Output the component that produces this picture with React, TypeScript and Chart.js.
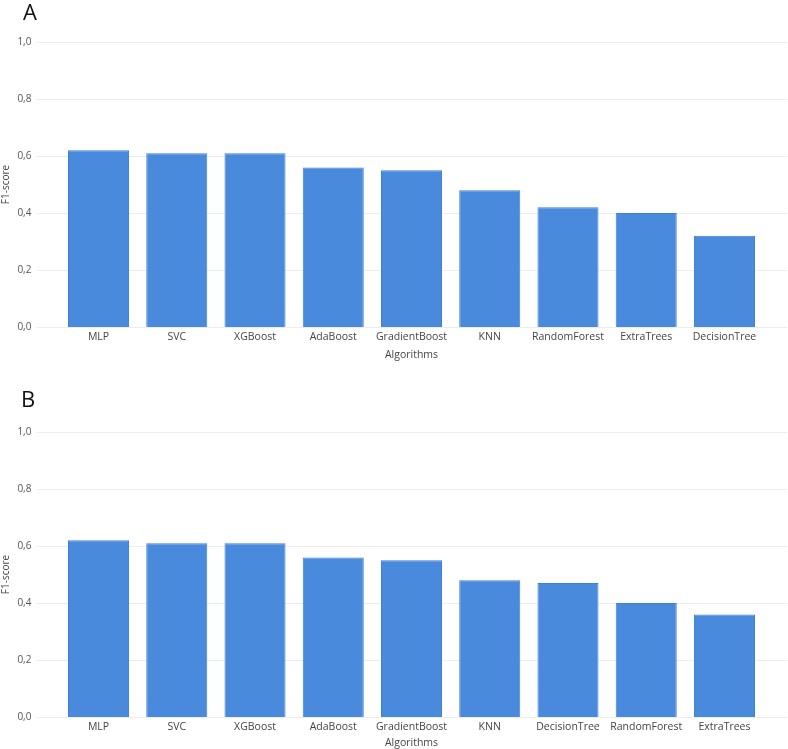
import React, { useEffect, useRef } from "react";
import { Chart, registerables } from "chart.js";

Chart.register(...registerables);

const categoriesA = ["MLP", "SVC", "XGBoost", "AdaBoost", "GradientBoost", "KNN", "RandomForest", "ExtraTrees", "DecisionTree"];
const valuesA = [0.62, 0.61, 0.61, 0.56, 0.55, 0.48, 0.42, 0.4, 0.32];
const categoriesB = ["MLP", "SVC", "XGBoost", "AdaBoost", "GradientBoost", "KNN", "DecisionTree", "RandomForest", "ExtraTrees"];
const valuesB = [0.62, 0.61, 0.61, 0.56, 0.55, 0.48, 0.47, 0.4, 0.36];
const yTicks = [0, 0.2, 0.4, 0.6, 0.8, 1.0];
const xTitle = "Algorithms";
const yTitle = "F1-score";

const FONT = "'Open Sans', 'Noto Sans', sans-serif";
const BAR = "#4a8add";

const gridPlugin = {
  id: "extGrid",
  beforeDatasetsDraw(chart: any) {
    const y = chart.scales.y;
    const ctx = chart.ctx;
    ctx.save();
    ctx.strokeStyle = "#ededed";
    ctx.lineWidth = 1;
    y.ticks.forEach((t: any) => {
      const py = Math.round(y.getPixelForValue(t.value)) + 0.5;
      ctx.beginPath();
      ctx.moveTo(37, py);
      ctx.lineTo(787, py);
      ctx.stroke();
    });
    ctx.restore();
  },
};

function BarChart(props: {
  labels: string[];
  values: number[];
  top: number;
  height: number;
  padTop: number;
  padBottom: number;
  xHeight: number;
}) {
  const ref = useRef<HTMLCanvasElement>(null);
  useEffect(() => {
    if (!ref.current) return;
    const chart = new Chart(ref.current, {
      type: "bar",
      data: {
        labels: props.labels,
        datasets: [
          {
            data: props.values,
            backgroundColor: BAR,
            borderColor: "#3f7fd4",
            borderWidth: 1,
            barPercentage: 0.78,
            categoryPercentage: 1,
          },
        ],
      },
      options: {
        responsive: false,
        animation: false,
        devicePixelRatio: 1,
        layout: { padding: { left: 0, right: 24.4, top: props.padTop, bottom: props.padBottom } },
        plugins: { legend: { display: false }, tooltip: { enabled: false } },
        scales: {
          x: {
            grid: { display: false, drawTicks: false },
            border: { display: false },
            ticks: {
              font: { family: FONT, size: 10.5 },
              color: "#444",
              padding: 4,
              maxRotation: 0,
              autoSkip: false,
            },
            title: {
              display: true,
              text: xTitle,
              font: { family: FONT, size: 10.5 },
              color: "#444",
              padding: { top: 0, bottom: 0 },
            },
            afterFit: (s: any) => {
              s.height = props.xHeight;
              s.paddingLeft = 0;
              s.paddingRight = 0;
            },
          },
          y: {
            min: 0,
            max: 1,
            grid: { display: false, drawTicks: false },
            border: { display: false },
            afterBuildTicks: (s: any) => {
              s.ticks = yTicks.map((v) => ({ value: v }));
            },
            ticks: {
              font: { family: FONT, size: 10 },
              color: "#555",
              padding: 28,
              callback: (v: any) => Number(v).toFixed(1).replace(".", ","),
            },
            title: {
              display: true,
              text: yTitle,
              font: { family: FONT, size: 10 },
              color: "#444",
              padding: { top: 0, bottom: 0 },
            },
            afterFit: (s: any) => {
              s.width = 59.4;
              s.paddingTop = 0;
              s.paddingBottom = 0;
            },
          },
        },
      },
      plugins: [gridPlugin],
    } as any);
    return () => chart.destroy();
  }, []);
  return (
    <canvas
      ref={ref}
      width={788}
      height={props.height}
      style={{ position: "absolute", left: 0, top: props.top, display: "block" }}
    />
  );
}

export default function App() {
  const letter: React.CSSProperties = {
    position: "absolute",
    fontFamily: FONT,
    fontSize: 22,
    lineHeight: "22px",
    color: "#111",
  };
  return (
    <div style={{ position: "absolute", left: 0, top: 0, width: 788, height: 749, background: "#fff", overflow: "hidden" }}>
      <BarChart labels={categoriesA} values={valuesA} top={0} height={370} padTop={42} padBottom={8.4} xHeight={34.6} />
      <BarChart labels={categoriesB} values={valuesB} top={380} height={369} padTop={52} padBottom={0} xHeight={32} />
      <div style={{ ...letter, left: 23, top: 0 }}>A</div>
      <div style={{ ...letter, left: 21, top: 387 }}>B</div>
    </div>
  );
}
